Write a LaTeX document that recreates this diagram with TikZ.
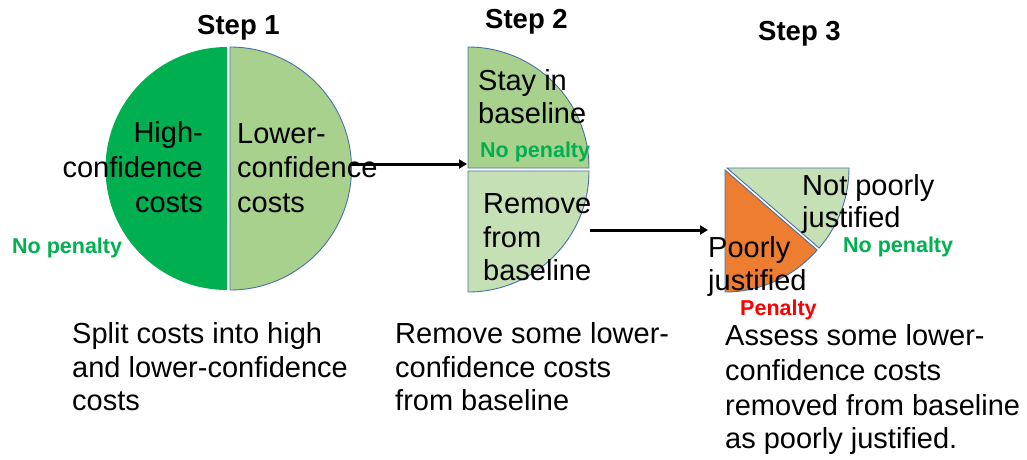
\documentclass[tikz,border=0pt]{standalone}
\usepackage{fontspec}
\setmainfont{Liberation Sans}
\usetikzlibrary{arrows.meta}
\definecolor{dkgreen}{HTML}{00B050}
\definecolor{ltgreen}{HTML}{A9D18E}
\definecolor{pagreen}{HTML}{C5E0B4}
\definecolor{orng}{HTML}{ED7D31}
\definecolor{edgeblue}{HTML}{4A6FA5}
\definecolor{pengreen}{HTML}{00B050}
\definecolor{penred}{HTML}{FF0000}
\begin{document}
\begin{tikzpicture}[x=1pt,y=-1pt,
  txt/.style={inner sep=0,anchor=base west,font=\fontsize{29}{34}\selectfont},
  txtr/.style={txt,anchor=base east},
  steplbl/.style={inner sep=0,anchor=base,font=\fontsize{27.5}{33}\selectfont\bfseries},
  nopen/.style={inner sep=0,anchor=base west,font=\fontsize{21.5}{26}\selectfont\bfseries,text=pengreen},
  pen/.style={nopen,text=penred},
  wedge/.style={draw=edgeblue,line width=0.9pt},
  arr/.style={-{Triangle[length=8pt,width=9pt]},line width=3pt}]
\useasboundingbox (0,0) rectangle (1027,459);
\fill[white] (0,0) rectangle (1027,459);

% Step 1
\fill[dkgreen] (227,290) arc[start angle=90,end angle=270,radius=121.5] -- cycle;
\filldraw[fill=ltgreen,wedge] (230,47) arc[start angle=-90,end angle=90,radius=121.5] -- cycle;
\node[steplbl] (s1) at (238.5,34) {Step 1};
\node[txtr] (h1) at (203,142) {High-};
\node[txtr] (h2) at (203,177) {confidence};
\node[txtr] (h3) at (203,212) {costs};
\node[txt] (l1) at (237,143) {Lower-};
\node[txt] (l2) at (237,177) {confidence};
\node[txt] (l3) at (237,212) {costs};
\node[nopen] (np1) at (12,253) {No penalty};

% Step 2
\filldraw[fill=ltgreen,wedge] (468,168) -- (468,47) arc[start angle=-90,end angle=0,radius=121] -- cycle;
\filldraw[fill=pagreen,wedge] (468,171) -- (589,171) arc[start angle=0,end angle=90,radius=121] -- cycle;
\node[steplbl] (s2) at (526.5,28) {Step 2};
\node[txt] (st1) at (478,90) {Stay in};
\node[txt] (st2) at (478,123) {baseline};
\node[nopen] (np2) at (480,157) {No penalty};
\node[txt] (rm1) at (483,213) {Remove};
\node[txt] (rm2) at (483,247) {from};
\node[txt] (rm3) at (483,280) {baseline};

% Step 3
\filldraw[fill=orng,wedge] (725,170) -- (725,292) arc[start angle=90,end angle=41,radius=122] -- cycle;
\filldraw[fill=pagreen,wedge] (727,168) -- (849,168) arc[start angle=0,end angle=41,radius=122] -- cycle;
\node[steplbl] (s3) at (799.5,40) {Step 3};
\node[txt] (nj1) at (802,195) {Not poorly};
\node[txt] (nj2) at (802,227) {justified};
\node[txt] (pj1) at (708,257) {Poorly};
\node[txt] (pj2) at (708,290) {justified};
\node[nopen] (np3) at (843,252) {No penalty};
\node[pen] (pn) at (740,315) {Penalty};

% Arrows
\coordinate (a1s) at (350,164);
\coordinate (a1e) at (467,164);
\coordinate (a2s) at (590,230);
\coordinate (a2e) at (708,230);
\draw[arr] (a1s) -- (a1e);
\draw[arr] (a2s) -- (a2e);

% Bottom captions
\node[txt] (c11) at (72,343) {Split costs into high};
\node[txt] (c12) at (72,377) {and lower-confidence};
\node[txt] (c13) at (72,410) {costs};
\node[txt] (c21) at (395,343) {Remove some lower-};
\node[txt] (c22) at (395,377) {confidence costs};
\node[txt] (c23) at (395,410) {from baseline};
\node[txt] (c31) at (725,345) {Assess some lower-};
\node[txt] (c32) at (725,380) {confidence costs};
\node[txt] (c33) at (725,415) {removed from baseline};
\node[txt] (c34) at (725,448) {as poorly justified.};
\end{tikzpicture}
\end{document}
